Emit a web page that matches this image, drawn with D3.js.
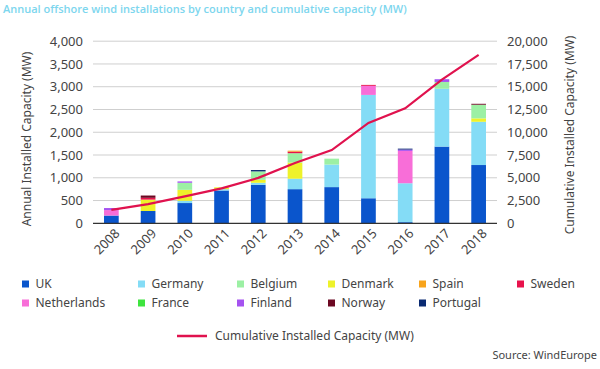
<!DOCTYPE html>
<html lang="en">
<meta charset="utf-8">
<style>
  body{ margin:0; background:#fff }
  text{ font-family:'Noto Sans', sans-serif; fill:#444 }
  .title{ font-family:'Open Sans', sans-serif; font-weight:600; font-size:11px; fill:#7dd6ee }
  .tick{ font-size:13px }
  .axTitle{ font-size:12px; text-anchor:middle }
  .leg{ font-size:12px }
  .grid{ stroke:#cfcfcf; stroke-width:1 }
</style>
<body>
<script src="https://cdn.jsdelivr.net/npm/d3@7"></script>
<script>

  var years = ['2008','2009','2010','2011','2012','2013','2014','2015','2016','2017','2018']

  var uk          = [170, 270, 445, 720, 845, 750, 795, 550, 25, 1685, 1280]
  var germany     = [0, 0, 50, 30, 45, 230, 495, 2270, 855, 1270, 950]
  var denmark     = [0, 250, 240, 40, 65, 355, 0, 0, 0, 0, 75]
  var belgium     = [0, 0, 155, 0, 185, 205, 130, 0, 0, 150, 300]
  var netherlands = [120, 0, 0, 0, 0, 0, 0, 200, 710, 0, 0]
  var sweden      = [0, 40, 0, 0, 0, 35, 0, 20, 0, 0, 0]
  var spain       = [0, 0, 0, 0, 0, 20, 0, 0, 0, 0, 0]
  var france      = [0, 0, 0, 0, 0, 0, 0, 0, 0, 0, 0]
  var finland     = [45, 0, 30, 0, 0, 0, 0, 0, 30, 60, 0]
  var norway      = [0, 50, 0, 0, 0, 0, 0, 0, 0, 0, 20]
  var portugal    = [0, 0, 0, 0, 30, 0, 0, 0, 20, 0, 0]

  var cumulative  = [1470, 2100, 2950, 3830, 4990, 6620, 8045, 11030, 12630, 15780, 18500]

  var leftTicks  = [0, 500, 1000, 1500, 2000, 2500, 3000, 3500, 4000]
  var rightTicks = [0, 2500, 5000, 7500, 10000, 12500, 15000, 17500, 20000]

  var series = [
    {name:'UK', values:uk, color:'#0a55cc'},
    {name:'Germany', values:germany, color:'#84dcf6'},
    {name:'Denmark', values:denmark, color:'#eef22a'},
    {name:'Belgium', values:belgium, color:'#9cf0a4'},
    {name:'Netherlands', values:netherlands, color:'#f86ed8'},
    {name:'Sweden', values:sweden, color:'#e8124c'},
    {name:'Spain', values:spain, color:'#f8a41c'},
    {name:'France', values:france, color:'#3ee43e'},
    {name:'Finland', values:finland, color:'#a552f0'},
    {name:'Norway', values:norway, color:'#6c0822'},
    {name:'Portugal', values:portugal, color:'#0a2a72'}
  ]
  var color = {}
  series.forEach(s => color[s.name] = s.color)

  // legend layout order as in the picture
  var legendRows = [
    ['UK', 'Germany', 'Belgium', 'Denmark', 'Spain', 'Sweden'],
    ['Netherlands', 'France', 'Finland', 'Norway', 'Portugal']
  ]
  var legendX = [22, 138, 237, 328, 419, 517]

  var svg = d3.select('body').append('svg').attr('width', 600).attr('height', 369)

  svg.append('text').attr('class', 'title').attr('x', 3).attr('y', 12.5)
  .text('Annual offshore wind installations by country and cumulative capacity (MW)')

  var x = d3.scaleBand().domain(years).range([93, 497]).paddingInner(0.6).paddingOuter(0.3)
  var y = d3.scaleLinear().domain([0, 4000]).range([223.3, 41.2])
  var y2 = d3.scaleLinear().domain([0, 20000]).range([223.3, 41.2])

  // grid
  svg.append('g').selectAll('line').data(leftTicks.slice(1)).join('line')
  .attr('class', 'grid')
  .attr('x1', 93).attr('x2', 497)
  .attr('y1', d => y(d)).attr('y2', d => y(d))

  var leftAxis = svg.append('g').attr('transform', 'translate(83,0)')
  .call(d3.axisLeft(y).tickValues(leftTicks).tickSize(0).tickPadding(0).tickFormat(d3.format(',')))
  leftAxis.select('.domain').remove()
  leftAxis.selectAll('text').attr('class', 'tick').attr('fill', '#444')

  var rightAxis = svg.append('g').attr('transform', 'translate(507,0)')
  .call(d3.axisRight(y2).tickValues(rightTicks).tickSize(0).tickPadding(0).tickFormat(d3.format(',')))
  rightAxis.select('.domain').remove()
  rightAxis.selectAll('text').attr('class', 'tick').attr('fill', '#444')

  svg.append('text').attr('class', 'axTitle')
  .attr('transform', 'translate(31,139) rotate(-90)').text('Annual Installed Capacity (MW)')
  svg.append('text').attr('class', 'axTitle')
  .attr('transform', 'translate(574,135) rotate(-90)').text('Cumulative Installed Capacity (MW)')

  // stacked bars
  var rows = years.map((yr, i) => {
    var o = {year:yr}
    series.forEach(s => o[s.name] = s.values[i])
    return o
  })
  var stack = d3.stack().keys(series.map(s => s.name))(rows)

  svg.append('g').selectAll('g').data(stack).join('g')
  .attr('fill', d => color[d.key])
  .selectAll('rect').data(d => d).join('rect')
  .attr('x', d => x(d.data.year))
  .attr('width', x.bandwidth())
  .attr('y', d => y(d[1]))
  .attr('height', d => y(d[0]) - y(d[1]))

  // baseline
  svg.append('line').attr('x1', 93).attr('x2', 497).attr('y1', y(0)).attr('y2', y(0))
  .attr('stroke', '#333').attr('stroke-width', 1.3)

  // x labels
  svg.append('g').selectAll('text').data(years).join('text')
  .attr('class', 'tick')
  .attr('text-anchor', 'end')
  .attr('transform', d => 'translate(' + (x(d) + x.bandwidth() / 2 + 6) + ',231) rotate(-45)')
  .attr('dy', '0.35em')
  .text(d => d)

  // cumulative line
  var line = d3.line().x((d, i) => x(years[i]) + x.bandwidth() / 2).y(d => y2(d))
  svg.append('path').datum(cumulative)
  .attr('d', line).attr('fill', 'none').attr('stroke', '#e0124e').attr('stroke-width', 2.2)

  // legend
  var rowY = [284, 303]
  legendRows.forEach((row, r) => {
    row.forEach((name, c) => {
      svg.append('rect').attr('x', legendX[c]).attr('y', rowY[r] - 3.5)
      .attr('width', 7).attr('height', 7).attr('fill', color[name])
      svg.append('text').attr('class', 'leg').attr('x', legendX[c] + 13.5).attr('y', rowY[r])
      .attr('dy', '0.35em').text(name)
    })
  })

  svg.append('line').attr('x1', 177).attr('x2', 207).attr('y1', 336).attr('y2', 336)
  .attr('stroke', '#e0124e').attr('stroke-width', 2.5)
  svg.append('text').attr('class', 'leg').attr('x', 215).attr('y', 336).attr('dy', '0.35em')
  .text('Cumulative Installed Capacity (MW)')

  svg.append('text').attr('class', 'leg').attr('x', 597).attr('y', 359)
  .attr('text-anchor', 'end').style('font-size', '11px').text('Source: WindEurope')

</script>
</body>
</html>
